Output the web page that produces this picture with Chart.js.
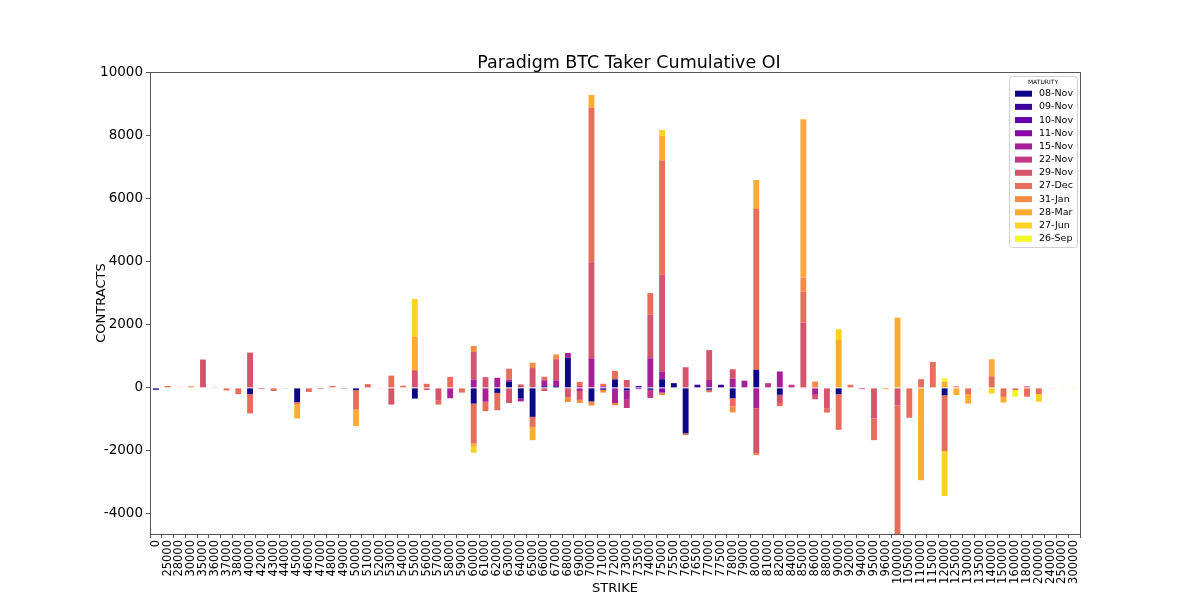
<!DOCTYPE html>
<html>
<head>
<meta charset="utf-8">
<script src="https://cdn.jsdelivr.net/npm/chart.js@4/dist/chart.umd.min.js"></script>
<style>
  html, body { margin: 0; padding: 0; background: #fff; }
  #wrap { width: 1200px; height: 600px; }
</style>
</head>
<body>
<div id="wrap"><canvas id="oiChart" width="1200" height="600"></canvas></div>
<script>
// strikes on the x axis
const strikes = ['0','25000','28000','30000','35000','36000','37000','38000','40000','42000',
  '43000','44000','45000','46000','47000','48000','49000','50000','51000','52000',
  '53000','54000','55000','56000','57000','58000','59000','60000','61000','62000',
  '63000','64000','65000','66000','67000','68000','69000','70000','71000','72000',
  '73000','73500','74000','75000','75500','76000','76500','77000','77500','78000',
  '79000','80000','81000','82000','84000','85000','86000','88000','90000','92000',
  '94000','95000','96000','100000','105000','110000','115000','120000','125000','130000',
  '135000','140000','150000','160000','180000','200000','240000','250000','300000'];

const maturities = ['08-Nov','09-Nov','10-Nov','11-Nov','15-Nov','22-Nov','29-Nov','27-Dec','31-Jan','28-Mar','27-Jun','26-Sep'];
const yTicks = [-4000, -2000, 0, 2000, 4000, 6000, 8000, 10000];

// contracts per strike, one array per maturity
const nov08 = [-50,0,0,0,0,0,0,0,-200,0,
  0,0,-450,0,0,0,0,-70,0,0,
  0,0,-340,0,0,0,0,-500,0,-160,
  190,-340,-920,50,50,960,0,-430,-60,270,
  -80,0,-60,275,150,-1440,0,-60,0,-330,
  0,570,0,-220,0,0,0,0,-200,0,
  0,0,0,0,0,0,0,-235,0,0,
  0,0,0,0,0,0,0,0,0];
const nov09 = [0,0,0,0,0,0,0,0,0,0,
  0,0,0,0,0,0,0,0,0,0,
  0,0,0,0,0,0,0,0,0,0,
  0,0,0,0,0,0,0,0,0,0,
  0,60,0,0,0,0,100,0,100,0,
  0,0,0,0,0,0,0,0,0,0,
  0,0,0,0,0,0,0,0,0,0,
  0,0,0,0,0,0,0,0,0];
const nov10 = [-20,0,0,0,0,0,0,0,0,0,
  0,0,0,0,0,0,0,0,0,0,
  0,0,0,0,0,0,0,0,0,0,
  0,0,0,0,0,0,0,0,0,0,
  0,-40,0,0,0,0,0,0,0,0,
  0,0,0,0,0,0,0,0,0,0,
  0,0,0,0,0,0,0,0,0,0,
  0,0,0,0,0,0,0,0,0];
const nov11 = [0,0,0,0,0,0,0,0,0,0,
  0,0,0,0,0,0,0,0,0,0,
  0,0,0,0,0,0,0,0,0,0,
  0,0,0,0,0,0,0,0,0,0,
  0,0,0,-150,0,0,0,0,0,0,
  0,0,0,0,0,0,0,0,0,0,
  0,0,0,0,0,0,0,0,0,0,
  0,0,0,0,0,0,0,0,0];
const nov15 = [0,0,0,0,0,0,0,0,0,0,
  0,0,0,0,0,0,0,0,0,0,
  0,0,0,0,0,-330,0,260,-440,320,
  70,-90,0,190,190,150,-100,940,50,-480,
  -300,0,940,245,0,0,0,250,0,300,
  230,-645,0,520,0,0,-220,0,0,0,
  0,0,0,0,0,0,0,0,0,0,
  0,0,0,0,0,0,0,0,0];
const nov22 = [0,0,0,0,0,0,0,0,0,0,
  0,0,0,0,0,0,0,0,0,0,
  0,0,0,0,0,0,0,0,0,0,
  0,0,0,0,0,0,60,0,0,0,
  -260,0,-260,0,0,0,0,0,0,0,
  0,0,150,0,100,-20,0,0,0,0,
  -40,0,0,0,0,0,0,0,0,0,
  0,0,0,0,0,0,0,0,0];
const nov29 = [0,0,0,0,900,10,0,0,1120,-40,
  0,-10,0,0,0,0,-30,0,0,-20,
  -530,0,560,-70,-410,0,0,880,340,0,
  -480,110,630,-100,670,-290,-280,3050,0,0,
  250,0,1380,3070,0,655,0,950,0,290,
  0,-1430,0,-260,0,2075,-140,-645,0,0,
  0,-970,0,-550,0,0,0,0,0,0,
  0,0,0,0,50,0,-20,0,0];
const dec27 = [0,60,0,0,0,0,-80,-200,-610,0,
  -100,0,-60,-130,-40,60,0,-620,120,0,
  390,70,0,130,-120,350,-150,-1270,-300,-550,
  350,0,-320,110,0,0,130,4910,80,270,
  0,0,690,3630,0,-60,0,-80,0,-260,
  0,5110,0,-100,0,980,0,-140,-1130,100,
  0,-690,0,-4090,-950,275,825,-1770,50,-210,
  -20,370,-285,-70,-280,-200,0,0,0];
const jan31 = [0,0,20,50,0,0,0,0,0,0,
  0,0,0,0,0,0,0,0,0,0,
  0,0,0,0,0,0,0,190,0,0,
  0,0,170,0,150,-160,-100,-130,-90,-70,
  0,0,0,-80,0,0,0,0,0,-190,
  0,-60,0,0,0,455,200,0,0,0,
  0,0,-40,0,0,0,0,0,0,0,
  0,0,0,0,0,0,0,0,0];
const mar28 = [0,0,0,0,0,0,0,0,0,0,
  0,0,-460,0,0,0,0,-520,0,0,
  0,0,1060,0,0,0,0,-100,0,0,
  0,0,-420,0,0,0,0,400,0,0,
  0,0,0,780,0,0,0,0,0,0,
  0,920,0,0,0,5020,0,0,1520,0,
  0,0,0,2230,0,-2930,0,200,-230,-290,
  0,540,-180,0,0,0,0,0,0];
const jun27 = [0,0,0,0,0,0,0,0,0,0,
  0,0,0,0,0,0,0,0,0,0,
  0,0,1200,0,0,0,0,-190,0,0,
  0,0,0,0,0,0,0,0,0,0,
  0,0,0,190,0,0,0,0,0,0,
  0,0,0,0,0,0,0,0,340,0,
  0,0,0,0,0,0,0,-1430,0,0,
  0,-180,0,0,0,-240,0,20,0];
const sep26 = [0,0,0,0,0,0,0,0,0,0,
  0,0,0,0,0,0,0,0,0,0,
  0,0,0,0,0,0,0,0,0,0,
  0,0,0,0,0,0,0,0,0,0,
  0,0,0,0,0,0,0,0,0,0,
  0,0,0,0,0,0,0,0,0,0,
  0,0,0,0,0,0,0,100,0,0,
  0,0,0,-210,0,0,0,0,10];

const seriesValues = [nov08, nov09, nov10, nov11, nov15, nov22, nov29, dec27, jan31, mar28, jun27, sep26];

// plasma colormap, 12 steps
const colors = ['#0d0887','#3b049a','#6100a7','#8908a6','#a62098','#c03a83',
  '#d5546e','#e76e5b','#f58c46','#fcac33','#fad224','#f0f921'];

const FONT = "'DejaVu Sans', sans-serif";
const TITLE = 'Paradigm BTC Taker Cumulative OI';

// title centred like the reference
const chartTitle = {
  id: 'chartTitle',
  afterDraw(chart) {
    const ctx = chart.ctx;
    ctx.save();
    ctx.fillStyle = '#000';
    ctx.font = '17.5px ' + FONT;
    ctx.textAlign = 'center';
    ctx.textBaseline = 'middle';
    ctx.fillText(TITLE, 629, 63);
    ctx.restore();
  }
};

// legend drawn inside the plot, top right
const maturityLegend = {
  id: 'maturityLegend',
  afterDraw(chart) {
    const ctx = chart.ctx;
    const x = 1009, y = 76, w = 68, h = 171;
    ctx.save();
    ctx.fillStyle = 'rgba(255,255,255,0.85)';
    ctx.strokeStyle = '#d0d0d0';
    ctx.lineWidth = 1;
    ctx.beginPath();
    ctx.roundRect(x + 0.5, y + 0.5, w, h, 3);
    ctx.fill();
    ctx.stroke();

    ctx.fillStyle = '#000';
    ctx.font = '6px ' + FONT;
    ctx.textAlign = 'center';
    ctx.textBaseline = 'middle';
    ctx.fillText('MATURITY', x + w / 2, 82);

    ctx.font = '9.5px ' + FONT;
    ctx.textAlign = 'left';
    chart.data.datasets.forEach((ds, i) => {
      const cy = 93.7 + i * 13.18;
      ctx.fillStyle = ds.backgroundColor;
      ctx.fillRect(1015, cy - 3, 17, 6);
      ctx.fillStyle = '#000';
      ctx.fillText(ds.label, 1039, cy);
    });
    ctx.restore();
  }
};

// box round the plot area, like matplotlib spines
const frame = {
  id: 'frame',
  afterDraw(chart) {
    const a = chart.chartArea;
    const ctx = chart.ctx;
    ctx.save();
    ctx.strokeStyle = '#555';
    ctx.lineWidth = 1;
    ctx.strokeRect(Math.round(a.left) + 0.5, Math.round(a.top) + 0.5,
      Math.round(a.right - a.left), Math.round(a.bottom - a.top));
    ctx.restore();
  }
};

new Chart(document.getElementById('oiChart'), {
  type: 'bar',
  data: {
    labels: strikes,
    datasets: maturities.map((m, i) => ({
      label: m,
      data: seriesValues[i],
      backgroundColor: colors[i],
      borderWidth: 0,
      barPercentage: 0.5,
      categoryPercentage: 1.0
    }))
  },
  options: {
    responsive: false,
    animation: false,
    devicePixelRatio: 1,
    layout: { padding: { left: 90, right: 120, top: 72, bottom: 0 } },
    scales: {
      x: {
        stacked: true,
        afterFit: (scale) => { scale.height = 66; },
        grid: { drawOnChartArea: false, drawTicks: true, tickLength: 4, color: '#555' },
        border: { display: true, color: '#555' },
        ticks: {
          autoSkip: false, minRotation: 90, maxRotation: 90, padding: 2,
          color: '#000', font: { family: FONT, size: 11.5 }
        },
        title: { display: true, text: 'STRIKE', color: '#000', font: { family: FONT, size: 13 } }
      },
      y: {
        stacked: true,
        min: -4640,
        max: 10030,
        afterFit: (scale) => { scale.width = 60; },
        afterBuildTicks: (scale) => { scale.ticks = yTicks.map(v => ({ value: v })); },
        grid: { drawOnChartArea: false, drawTicks: true, tickLength: 4, color: '#555' },
        border: { display: true, color: '#555' },
        ticks: {
          padding: 3, color: '#000', font: { family: FONT, size: 13.5 },
          callback: (v) => String(v)
        },
        title: { display: true, text: 'CONTRACTS', color: '#000', font: { family: FONT, size: 13 } }
      }
    },
    plugins: {
      legend: { display: false },
      tooltip: { enabled: false },
      title: { display: false }
    }
  },
  plugins: [frame, maturityLegend, chartTitle]
});
</script>
</body>
</html>
